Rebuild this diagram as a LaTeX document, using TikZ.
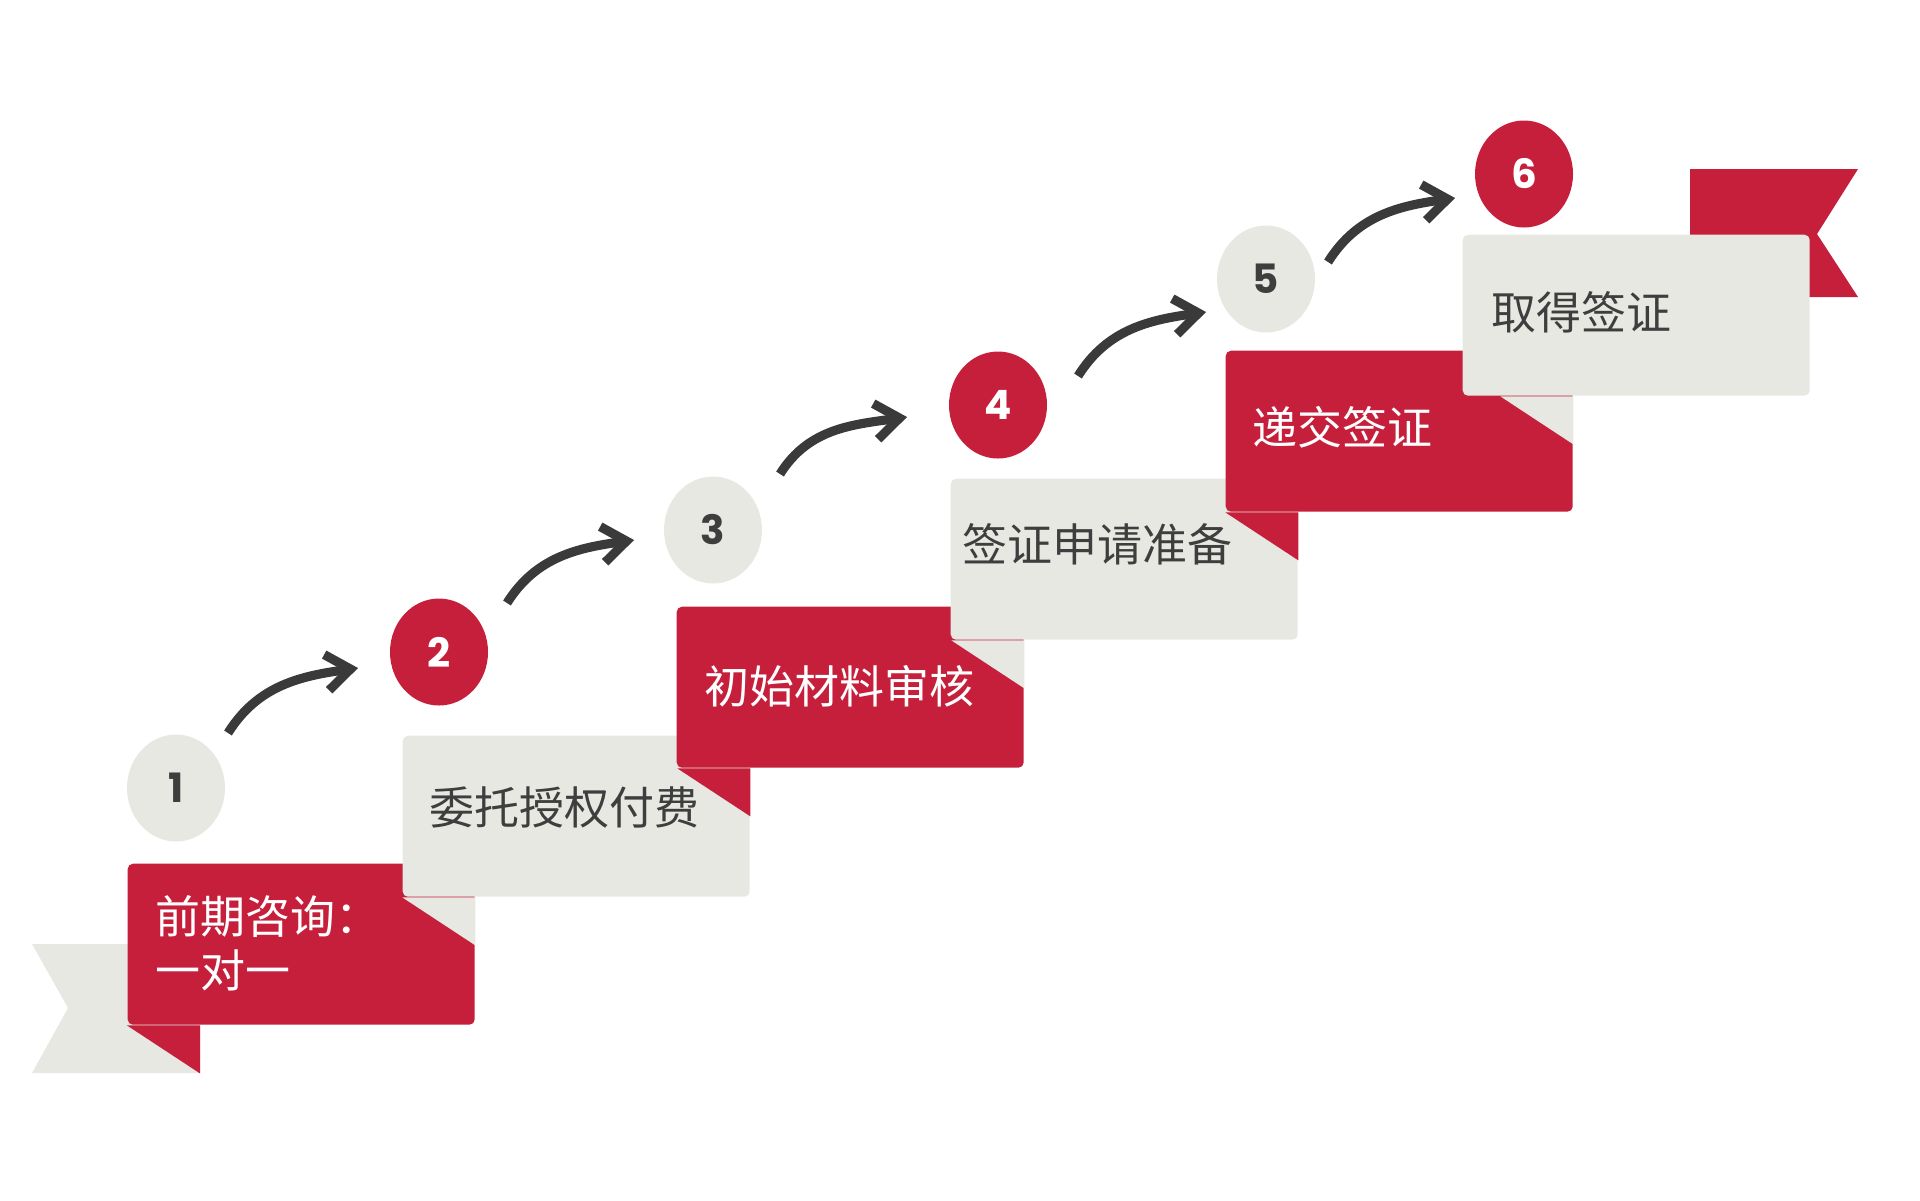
\documentclass[tikz,border=0pt]{standalone}
\usepackage{fontspec}
\usepackage{tikz}
\usetikzlibrary{calc}
\usetikzlibrary{arrows.meta,shapes.geometric}

\newfontfamily\cjk{Noto Sans CJK SC}
\newfontfamily\numfont{Poppins}

\definecolor{stepred}{RGB}{197,31,60}
\definecolor{stepgray}{RGB}{232,232,227}
\definecolor{inkgray}{RGB}{62,62,62}
\definecolor{arrowgray}{RGB}{58,58,58}

\begin{document}
\begin{tikzpicture}[
	stepbox/.style={rectangle, rounded corners=1.5pt, minimum width=3.47cm, minimum height=1.61cm, inner sep=0pt, anchor=north west},
	redbox/.style={stepbox, fill=stepred},
	graybox/.style={stepbox, fill=stepgray},
	redlabel/.style={anchor=west, inner sep=0pt, text=white, align=left, font=\cjk\fontsize{12.8}{15.4}\selectfont},
	graylabel/.style={redlabel, text=inkgray},
	numred/.style={ellipse, fill=stepred, text=white, minimum width=0.98cm, minimum height=1.07cm, inner sep=0pt, font=\numfont\bfseries\fontsize{11.5}{13}\selectfont},
	numgray/.style={numred, fill=stepgray, text=inkgray},
	flowarrow/.style={draw=arrowgray, line width=2.6pt, -{Straight Barb[length=2.4mm,width=3.6mm]}}
	]
			\useasboundingbox (0,0) rectangle (19.2,-12);

			%ribbon ends
			\coordinate (tailend) at (2.00,-9.44);
			\fill[stepgray] (0.32,-9.44) -- (tailend) -- (2.00,-10.73) -- (0.32,-10.73) -- (0.68,-10.08) -- cycle;
			\fill[stepred] (16.90,-1.69) -- (18.58,-1.69) -- (18.17,-2.34) -- (18.58,-2.97) -- (16.90,-2.97) -- cycle;

			%steps, each fold lies on the step before
			\node[redbox] (b1) at (1.27,-8.63) {};
			\fill[stepred] (b1.south west) -- ($(tailend |- b1.south)+(0,-0.48)$) -- (tailend |- b1.south) -- cycle;
			\node[graybox] (b2) at (4.02,-7.35) {};
			\fill[stepgray] ($(b1.east |- b2.south)+(-0.73,0)$) -- ($(b1.east |- b2.south)+(0,-0.48)$) -- (b1.east |- b2.south) -- cycle;
			\node[redbox] (b3) at (6.76,-6.06) {};
			\fill[stepred] ($(b2.east |- b3.south)+(-0.73,0)$) -- ($(b2.east |- b3.south)+(0,-0.48)$) -- (b2.east |- b3.south) -- cycle;
			\node[graybox] (b4) at (9.50,-4.78) {};
			\fill[stepgray] ($(b3.east |- b4.south)+(-0.73,0)$) -- ($(b3.east |- b4.south)+(0,-0.48)$) -- (b3.east |- b4.south) -- cycle;
			\node[redbox] (b5) at (12.25,-3.50) {};
			\fill[stepred] ($(b4.east |- b5.south)+(-0.73,0)$) -- ($(b4.east |- b5.south)+(0,-0.48)$) -- (b4.east |- b5.south) -- cycle;
			\node[graybox] (b6) at (14.62,-2.34) {};
			\fill[stepgray] ($(b5.east |- b6.south)+(-0.73,0)$) -- ($(b5.east |- b6.south)+(0,-0.48)$) -- (b5.east |- b6.south) -- cycle;

			\node[redlabel] (l1) at ($(b1.north west)+(0.28,-0.80)$) {前期咨询：\\一对一};
			\node[graylabel] (l2) at ($(b2.north west)+(0.27,-0.72)$) {委托授权付费};
			\node[redlabel] (l3) at ($(b3.north west)+(0.28,-0.80)$) {初始材料审核};
			\node[graylabel] (l4) at ($(b4.north west)+(0.12,-0.66)$) {签证申请准备};
			\node[redlabel] (l5) at ($(b5.north west)+(0.27,-0.77)$) {递交签证};
			\node[graylabel] (l6) at ($(b6.north west)+(0.29,-0.78)$) {取得签证};

			%numbers
			\node[numgray] (c1) at (1.76,-7.88) {1};
			\node[numred] (c2) at (4.39,-6.52) {2};
			\node[numgray] (c3) at (7.13,-5.30) {3};
			\node[numred] (c4) at (9.98,-4.05) {4};
			\node[numgray] (c5) at (12.66,-2.79) {5};
			\node[numred] (c6) at (15.24,-1.74) {6};

			\draw[flowarrow] ($(c1)+(0.52,0.55)$) to[out=58,in=188] ($(c2)+(-0.81,-0.16)$);
			\draw[flowarrow] ($(c2)+(0.68,0.49)$) to[out=58,in=188] ($(c3)+(-0.79,-0.10)$);
			\draw[flowarrow] ($(c3)+(0.67,0.56)$) to[out=58,in=188] ($(c4)+(-0.91,-0.12)$);
			\draw[flowarrow] ($(c4)+(0.80,0.29)$) to[out=58,in=188] ($(c5)+(-0.60,-0.33)$);
			\draw[flowarrow] ($(c5)+(0.62,0.17)$) to[out=58,in=188] ($(c6)+(-0.69,-0.24)$);

		\end{tikzpicture}
\end{document}
